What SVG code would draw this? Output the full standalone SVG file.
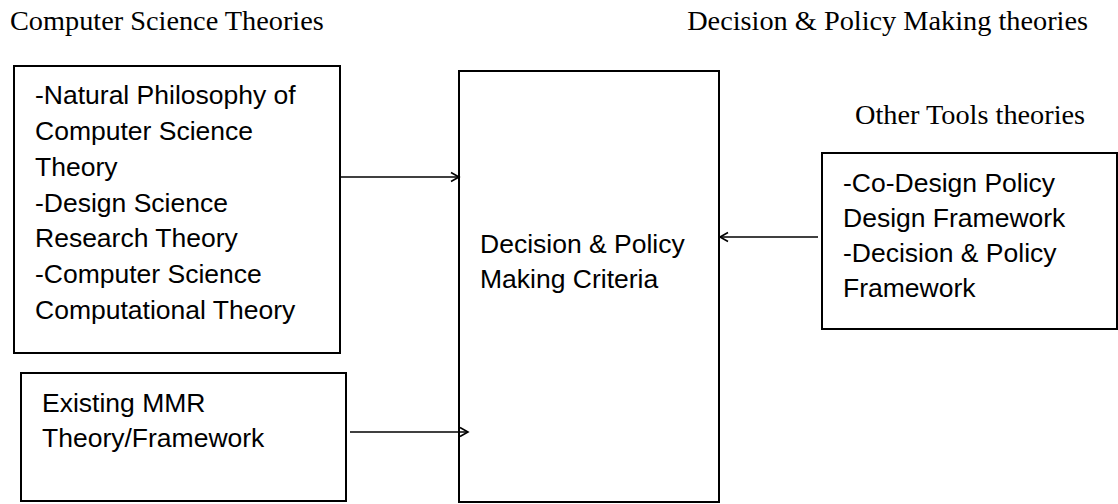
<svg xmlns="http://www.w3.org/2000/svg" width="1118" height="504" viewBox="0 0 1118 504">
<style>
.box{fill:#fff;stroke:#000;stroke-width:2}
.t{font-family:"Liberation Sans",Arial,sans-serif;font-size:26.5px;fill:#000}
.h{font-family:"Liberation Serif","Times New Roman",serif;font-size:28.3px;fill:#000}
.c{stroke:#000;stroke-width:1.7;fill:none}
</style>
<defs>
<marker id="arr" markerUnits="userSpaceOnUse" markerWidth="12" markerHeight="12" refX="9" refY="6" orient="auto">
<path d="M1,1.5 L9,6 L1,10.5" fill="none" stroke="#000" stroke-width="1.6"/>
</marker>
</defs>
<rect width="1118" height="504" fill="#fff"/>
<g id="titles">
<text class="h" x="10" y="30">Computer Science Theories</text>
<text class="h" x="1088" y="30" text-anchor="end">Decision &amp; Policy Making theories</text>
<text class="h" x="855" y="124">Other Tools theories</text>
</g>
<g id="cs-theories">
<rect class="box" x="14" y="66" width="326" height="287"/>
<text class="t" x="35" y="104">-Natural Philosophy of</text>
<text class="t" x="35" y="140">Computer Science</text>
<text class="t" x="35" y="176">Theory</text>
<text class="t" x="35" y="212">-Design Science</text>
<text class="t" x="35" y="247">Research Theory</text>
<text class="t" x="35" y="283">-Computer Science</text>
<text class="t" x="35" y="319">Computational Theory</text>
</g>
<g id="mmr">
<rect class="box" x="21" y="373" width="325" height="128"/>
<text class="t" x="42" y="412">Existing MMR</text>
<text class="t" x="42" y="447">Theory/Framework</text>
</g>
<g id="criteria">
<rect class="box" x="459" y="71" width="260" height="431"/>
<text class="t" x="480" y="253">Decision &amp; Policy</text>
<text class="t" x="480" y="288">Making Criteria</text>
</g>
<g id="other-tools">
<rect class="box" x="822" y="153" width="295" height="176"/>
<text class="t" x="843" y="192">-Co-Design Policy</text>
<text class="t" x="843" y="227">Design Framework</text>
<text class="t" x="843" y="262">-Decision &amp; Policy</text>
<text class="t" x="843" y="297">Framework</text>
</g>
<g id="connectors">
<line class="c" x1="341" y1="177" x2="459" y2="177" marker-end="url(#arr)"/>
<line class="c" x1="350" y1="432" x2="468" y2="432" marker-end="url(#arr)"/>
<line class="c" x1="818" y1="237" x2="720" y2="237" marker-end="url(#arr)"/>
</g>
</svg>
